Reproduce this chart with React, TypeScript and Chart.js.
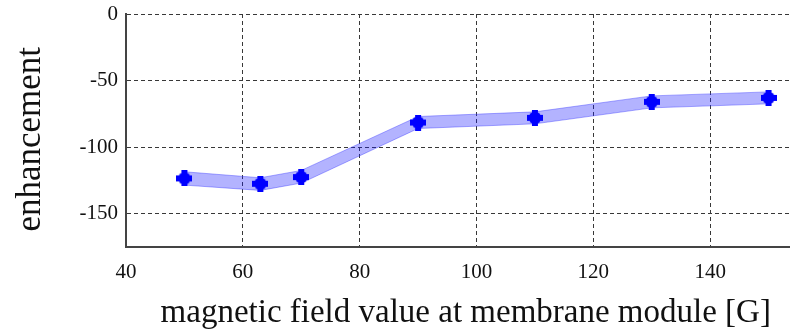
import React, { useEffect, useRef } from 'react';
import { Chart, registerables } from 'chart.js';

Chart.register(...registerables);

const fieldValues = [50, 63, 70, 90, 110, 130, 150];
const enhancement = [-123.5, -127.5, -122.5, -81.5, -78, -66, -63];
const bandUpper = [-118.5, -123, -117.5, -77, -73.5, -61.5, -58.5];
const bandLower = [-128.5, -132.5, -127, -86, -82.5, -70.5, -67.5];
const xTicks = [40, 60, 80, 100, 120, 140];
const yTicks = [-150, -100, -50, 0];
const xTitle = '  magnetic field value at membrane module [G]';
const yTitle = 'enhancement  ';

const FONT = '"Liberation Serif", "DejaVu Serif", serif';

function makeMarker(): HTMLCanvasElement {
  const m = document.createElement('canvas');
  m.width = 16;
  m.height = 16;
  const c = m.getContext('2d')!;
  c.fillStyle = '#0000ff';
  c.fillRect(5, 0, 6, 16);
  c.fillRect(0, 5, 16, 6);
  c.beginPath();
  c.arc(8, 8, 6.3, 0, Math.PI * 2);
  c.fill();
  return m;
}

export default function App() {
  const ref = useRef<HTMLCanvasElement | null>(null);

  useEffect(() => {
    if (!ref.current) return;
    const marker = makeMarker();
    const toPts = (arr: number[]) => fieldValues.map((x, i) => ({ x, y: arr[i] }));
    const chart = new Chart(ref.current, {
      type: 'line',
      data: {
        datasets: [
          {
            data: toPts(bandLower),
            borderColor: 'rgba(70,70,255,0.45)',
            borderWidth: 1,
            pointRadius: 0,
            fill: false,
            tension: 0,
            order: 3,
          },
          {
            data: toPts(bandUpper),
            borderColor: 'rgba(70,70,255,0.45)',
            borderWidth: 1,
            backgroundColor: 'rgba(20,20,255,0.32)',
            pointRadius: 0,
            fill: '-1',
            tension: 0,
            order: 2,
          },
          {
            data: toPts(enhancement),
            showLine: false,
            pointStyle: marker as any,
            pointRadius: 8,
            order: 1,
          },
        ],
      },
      options: {
        animation: false,
        responsive: false,
        maintainAspectRatio: false,
        events: [],
        layout: { autoPadding: false, padding: { top: 14, right: 1, left: 0, bottom: 0 } },
        plugins: { legend: { display: false }, tooltip: { enabled: false } },
        scales: {
          x: {
            type: 'linear',
            min: 40,
            max: 153.5,
            afterBuildTicks: (s: any) => {
              s.ticks = xTicks.map((v) => ({ value: v }));
            },
            afterFit: (s: any) => {
              s.height = 86;
              s.paddingLeft = 0;
              s.paddingRight = 0;
            },
            grid: {
              color: '#383838',
              lineWidth: 1,
              drawTicks: false,
            },
            border: { display: true, color: '#444', width: 2, dash: [4, 3] },
            ticks: {
              color: '#111',
              padding: 13,
              font: { family: FONT, size: 21 },
              maxRotation: 0,
            },
            title: {
              display: true,
              text: xTitle,
              color: '#111',
              font: { family: FONT, size: 33 },
              padding: { top: 0, bottom: 0 },
            },
          },
          y: {
            type: 'linear',
            min: -175,
            max: 0,
            afterBuildTicks: (s: any) => {
              s.ticks = yTicks.map((v) => ({ value: v }));
            },
            afterFit: (s: any) => {
              s.width = 126;
              s.paddingTop = 0;
              s.paddingBottom = 0;
            },
            grid: {
              color: '#383838',
              lineWidth: 1,
              drawTicks: false,
            },
            border: { display: true, color: '#444', width: 2, dash: [4, 3] },
            ticks: {
              color: '#111',
              padding: 8,
              font: { family: FONT, size: 21 },
            },
            title: {
              display: true,
              text: yTitle,
              color: '#111',
              font: { family: FONT, size: 35 },
              padding: { top: 10, bottom: 0 },
            },
          },
        },
      },
    });
    return () => chart.destroy();
  }, []);

  return (
    <div style={{ position: 'fixed', left: 0, top: 0, width: 790, height: 333, background: '#fff' }}>
      <canvas ref={ref} width={790} height={333} style={{ display: 'block', width: 790, height: 333 }} />
    </div>
  );
}
